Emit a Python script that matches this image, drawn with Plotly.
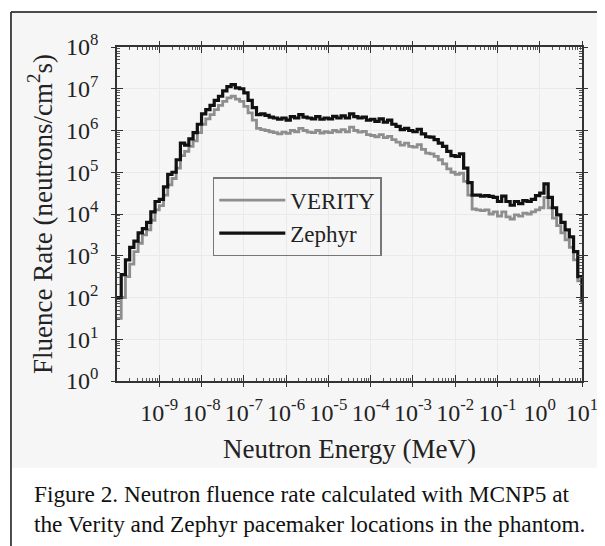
import plotly.graph_objects as go

# log10 of neutron energy (MeV), bin positions
LOG_E = [
    -10.0, -9.9, -9.8, -9.7, -9.6, -9.5, -9.4, -9.3, -9.2, -9.1,
    -9.0, -8.9, -8.8, -8.7, -8.6, -8.5, -8.4, -8.3, -8.2, -8.1,
    -8.0, -7.9, -7.8, -7.7, -7.6, -7.5, -7.4, -7.3, -7.2, -7.1,
    -7.0, -6.9, -6.8, -6.7, -6.6, -6.5, -6.4, -6.3, -6.2, -6.1,
    -6.0, -5.9, -5.8, -5.7, -5.6, -5.5, -5.4, -5.3, -5.2, -5.1,
    -5.0, -4.9, -4.8, -4.7, -4.6, -4.5, -4.4, -4.3, -4.2, -4.1,
    -4.0, -3.9, -3.8, -3.7, -3.6, -3.5, -3.4, -3.3, -3.2, -3.1,
    -3.0, -2.9, -2.8, -2.7, -2.6, -2.5, -2.4, -2.3, -2.2, -2.1,
    -2.0, -1.9, -1.8, -1.7, -1.6, -1.5, -1.4, -1.3, -1.2, -1.1,
    -1.0, -0.9, -0.8, -0.7, -0.6, -0.5, -0.4, -0.3, -0.2, -0.1,
    0.0, 0.1, 0.2, 0.3, 0.4, 0.5, 0.6, 0.7, 0.8, 0.9,
    1.0,
]

# log10 of fluence rate (neutrons/cm^2 s), Zephyr location
ZEPHYR_LOG = [
    2.0, 2.55, 2.9, 3.2, 3.35, 3.55, 3.65, 3.8, 4.05, 4.3,
    4.35, 4.65, 4.95, 5.0, 5.3, 5.7, 5.65, 5.8, 5.95, 6.15,
    6.4, 6.5, 6.6, 6.72, 6.82, 6.95, 7.05, 7.1, 7.02, 7.0,
    6.9, 6.72, 6.55, 6.38, 6.4, 6.36, 6.32, 6.3, 6.27, 6.3,
    6.25, 6.33, 6.3, 6.38, 6.32, 6.3, 6.28, 6.33, 6.27, 6.3,
    6.28, 6.34, 6.3, 6.35, 6.3, 6.4, 6.33, 6.3, 6.32, 6.25,
    6.27, 6.22, 6.28, 6.2, 6.25, 6.15, 6.1, 6.02, 6.05, 6.0,
    5.97, 6.03, 5.92, 5.85, 5.84, 5.78, 5.7, 5.62, 5.5, 5.4,
    5.38, 5.44, 5.1, 4.75, 4.45, 4.45, 4.43, 4.44, 4.42, 4.4,
    4.3, 4.43, 4.3, 4.21, 4.3, 4.25, 4.32, 4.3, 4.35, 4.44,
    4.5, 4.72, 4.4, 4.15, 3.98, 3.8, 3.62, 3.45, 3.1, 2.5,
    1.9,
]

# log10 of fluence rate (neutrons/cm^2 s), VERITY location
VERITY_LOG = [
    1.5, 2.0, 2.5, 2.8, 3.1, 3.3, 3.5, 3.62, 3.85, 4.1,
    4.2, 4.45, 4.7, 4.85, 5.1, 5.4, 5.5, 5.62, 5.75, 5.95,
    6.15, 6.28, 6.38, 6.5, 6.6, 6.7, 6.78, 6.82, 6.75, 6.7,
    6.58, 6.42, 6.25, 6.05, 6.02, 6.0, 5.97, 5.95, 5.92, 5.96,
    5.93, 6.0, 5.97, 6.05, 6.0, 5.96, 5.95, 6.0, 5.94, 5.97,
    5.95, 6.0, 5.97, 6.02, 5.97, 6.08, 6.0, 5.96, 5.98, 5.9,
    5.88, 5.85, 5.9, 5.83, 5.86, 5.78, 5.72, 5.65, 5.7, 5.62,
    5.6, 5.66, 5.55, 5.46, 5.44, 5.38, 5.3, 5.2, 5.08, 5.0,
    4.95, 4.98, 4.78, 4.45, 4.12, 4.1, 4.08, 4.1, 4.0, 4.05,
    3.95, 4.05, 3.93, 3.88, 3.98, 3.95, 4.02, 4.0, 4.05, 4.1,
    4.15, 4.4, 4.15, 3.9, 3.72, 3.55, 3.38, 3.2, 2.9, 2.4,
    1.85,
]

X_TICK_EXP = [-9, -8, -7, -6, -5, -4, -3, -2, -1, 0, 1]
Y_TICK_EXP = [0, 1, 2, 3, 4, 5, 6, 7, 8]
X_TICK_TEXT = ["10<sup>%d</sup>" % e for e in X_TICK_EXP]
Y_TICK_TEXT = ["10<sup>%d</sup>" % e for e in Y_TICK_EXP]

SERIES_NAMES = ["VERITY", "Zephyr"]
X_TITLE = "Neutron Energy (MeV)"
Y_TITLE = "Fluence Rate (neutrons/cm<sup>2</sup>s)"
CAPTION = ("Figure 2. Neutron fluence rate calculated with MCNP5 at<br>"
           "the Verity and Zephyr pacemaker locations in the phantom.")

energy = [10 ** e for e in LOG_E]
zephyr = [10 ** v for v in ZEPHYR_LOG]
verity = [10 ** v for v in VERITY_LOG]
x_tickvals = [10 ** e for e in X_TICK_EXP]
y_tickvals = [10 ** e for e in Y_TICK_EXP]

FONT = "Liberation Serif, Times New Roman, serif"
PANEL = "#f6f6f6"

fig = go.Figure()
fig.add_trace(go.Scatter(x=energy, y=verity, mode="lines", name=SERIES_NAMES[0],
                         line=dict(color="#8e8e8e", width=2.8, shape="hv")))
fig.add_trace(go.Scatter(x=energy, y=zephyr, mode="lines", name=SERIES_NAMES[1],
                         line=dict(color="#111111", width=3.2, shape="hv")))
# invisible copy used to carry the crossing (outside) major tick marks
fig.add_trace(go.Scatter(x=energy, y=zephyr, mode="lines", xaxis="x2", yaxis="y2",
                         line=dict(width=0, color="rgba(0,0,0,0)"), showlegend=False,
                         hoverinfo="skip"))

axis_common = dict(
    type="log", showline=True, linecolor="#333", linewidth=1.5, mirror="ticks",
    ticks="inside", ticklen=6, tickwidth=1.2, tickcolor="#333", automargin=False,
    showgrid=True, gridcolor="#eaeaea", gridwidth=1, zeroline=False,
    tickfont=dict(family=FONT, size=24, color="#222"),
    minor=dict(ticks="inside", ticklen=3, tickwidth=0.8, tickcolor="#555",
               dtick="D1", showgrid=False),
)

fig.update_layout(
    width=597, height=538,
    margin=dict(l=109, r=23, t=39, b=165),
    paper_bgcolor="white", plot_bgcolor=PANEL,
    font=dict(family=FONT, color="#222"),
    xaxis=dict(axis_common, range=[-10, 1], tickmode="array", tickvals=x_tickvals,
               ticktext=X_TICK_TEXT, ticklabelstandoff=9,
               title=dict(text=X_TITLE, font=dict(family=FONT, size=27, color="#222"),
                          standoff=15)),
    yaxis=dict(axis_common, range=[0, 8], tickmode="array", tickvals=y_tickvals,
               ticktext=Y_TICK_TEXT, ticklabelstandoff=12,
               title=dict(text=Y_TITLE, font=dict(family=FONT, size=27, color="#222"),
                          standoff=6)),
    xaxis2=dict(type="log", range=[-10, 1], overlaying="x", anchor="y2", side="bottom",
                tickmode="array", tickvals=x_tickvals, ticks="outside", ticklen=5,
                tickwidth=1.2, tickcolor="#333", mirror="ticks", showline=False,
                showgrid=False, zeroline=False, showticklabels=False, automargin=False),
    yaxis2=dict(type="log", range=[0, 8], overlaying="y", anchor="x2", side="left",
                tickmode="array", tickvals=y_tickvals, ticks="outside", ticklen=5,
                tickwidth=1.2, tickcolor="#333", mirror="ticks", showline=False,
                showgrid=False, zeroline=False, showticklabels=False, automargin=False),
    legend=dict(x=0.206, y=0.61, xanchor="left", yanchor="top",
                bgcolor="rgba(0,0,0,0)", bordercolor="#777", borderwidth=1.5,
                font=dict(family=FONT, size=23, color="#222"), itemwidth=66,
                tracegroupgap=0),
    showlegend=True,
    shapes=[
        dict(type="rect", xref="paper", yref="paper", x0=-0.228, x1=1.06,
             y0=-0.2596, y1=1.1048, fillcolor=PANEL, line=dict(width=0), layer="below"),
        dict(type="line", xref="paper", yref="paper", x0=-0.228, x1=1.06,
             y0=1.1048, y1=1.1048, line=dict(color="#111", width=1.5)),
        dict(type="line", xref="paper", yref="paper", x0=-0.228, x1=-0.228,
             y0=-0.5, y1=1.1048, line=dict(color="#111", width=1.5)),
    ],
    annotations=[
        dict(text=CAPTION, xref="paper", yref="paper", x=-0.1834, y=-0.292,
             xanchor="left", yanchor="top", align="left", showarrow=False,
             font=dict(family=FONT, size=23.3, color="#111")),
    ],
)

fig.write_html("out.html")
